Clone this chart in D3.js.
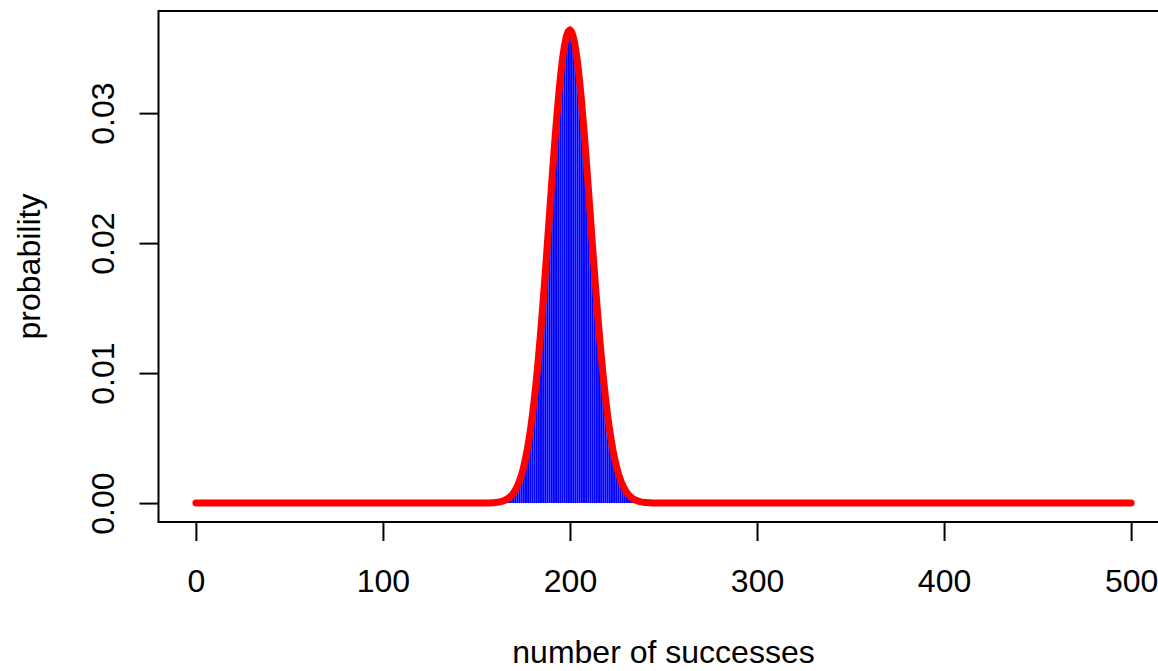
<!DOCTYPE html>
<html>
<head>
<meta charset="utf-8">
<script src="https://cdn.jsdelivr.net/npm/d3@7"></script>
<style>
  html, body { margin: 0; padding: 0; background: #fff; }
  svg { display: block; font-family: "Liberation Sans", Arial, Helvetica, sans-serif; }
</style>
</head>
<body>
<div id="chart"></div>
<script>
// Probability of each number of successes (the visible part of the curve, k = 156..245).
// Everything outside this window sits on zero.
const firstK = 156;
const probability = [
  0.0000096, 0.0000139, 0.0000200, 0.0000285, 0.0000404, 0.0000569, 0.0000793, 0.000110,
  0.000150, 0.000204, 0.000274, 0.000366, 0.000483, 0.000633, 0.000822, 0.001057,
  0.001348, 0.001704, 0.002135, 0.002652, 0.003265, 0.003984, 0.004820, 0.005780,
  0.006872, 0.008100, 0.009465, 0.010965, 0.012594, 0.014341, 0.016191, 0.018125,
  0.020118, 0.022140, 0.024160, 0.026142, 0.028048, 0.029840, 0.031481, 0.032934,
  0.034166, 0.035149, 0.035859, 0.036279, 0.036400, 0.036219, 0.035741, 0.034978,
  0.033949, 0.032680, 0.031199, 0.029541, 0.027742, 0.025840, 0.023871, 0.021872,
  0.019878, 0.017918, 0.016020, 0.014207, 0.012497, 0.010904, 0.009437, 0.008101,
  0.006898, 0.005826, 0.004881, 0.004057, 0.003345, 0.002735, 0.002219, 0.001786,
  0.001425, 0.001129, 0.000886, 0.000691, 0.000534, 0.000409, 0.000311, 0.000235,
  0.000176, 0.000131, 0.0000965, 0.0000705, 0.0000511, 0.0000368, 0.0000263, 0.0000187,
  0.0000132, 0.0000092
];
const nTrials = 500;
const xTicks = [0, 100, 200, 300, 400, 500];
const yTicks = [0, 0.01, 0.02, 0.03];

const W = 1158, H = 671;
const FONT = '32px';
const points = probability.map((p, i) => ({ k: firstK + i, p }));
const curve = [{ k: 0, p: 0 }, ...points, { k: nTrials, p: 0 }];

// R style: 4% padding on both ends of each axis
const xPad = nTrials * 0.04;
const yMax = d3.max(probability);
const yPad = yMax * 0.04;

const x = d3.scaleLinear().domain([-xPad, nTrials + xPad]).range([158.5, 1168.5]);
const y = d3.scaleLinear().domain([-yPad, yMax + yPad]).range([522, 11]);

const svg = d3.select('#chart').append('svg').attr('width', W).attr('height', H);

// bars (type = "h")
svg.append('g').selectAll('line').data(points).enter().append('line')
  .attr('x1', d => x(d.k)).attr('x2', d => x(d.k))
  .attr('y1', y(0)).attr('y2', d => y(d.p))
  .attr('stroke', '#0000ff').attr('stroke-width', 1.8);

// red curve
svg.append('path').datum(curve)
  .attr('d', d3.line().x(d => x(d.k)).y(d => y(d.p)))
  .attr('fill', 'none').attr('stroke', '#ff0000').attr('stroke-width', 7)
  .attr('stroke-linejoin', 'round').attr('stroke-linecap', 'round');

// box
svg.append('rect')
  .attr('x', x.range()[0]).attr('y', y.range()[1])
  .attr('width', x.range()[1] - x.range()[0]).attr('height', y.range()[0] - y.range()[1])
  .attr('fill', 'none').attr('stroke', '#000').attr('stroke-width', 2);

// x axis
const gx = svg.append('g').attr('transform', `translate(0,${y.range()[0]})`)
  .call(d3.axisBottom(x).tickValues(xTicks).tickSize(19).tickSizeOuter(0).tickPadding(0).tickFormat(d3.format('d')));
gx.select('.domain').remove();
gx.selectAll('.tick line').attr('stroke', '#000').attr('stroke-width', 2);
gx.selectAll('.tick text').attr('dy', null).attr('y', 70).attr('fill', '#000')
  .style('font-size', FONT);

// y axis
const gy = svg.append('g').attr('transform', `translate(${x.range()[0]},0)`)
  .call(d3.axisLeft(y).tickValues(yTicks).tickSize(19).tickSizeOuter(0).tickFormat(d3.format('.2f')));
gy.select('.domain').remove();
gy.selectAll('.tick line').attr('stroke', '#000').attr('stroke-width', 2);
gy.selectAll('.tick text')
  .attr('x', null).attr('dy', null)
  .attr('transform', 'translate(-45,0) rotate(-90)')
  .attr('text-anchor', 'middle').attr('fill', '#000')
  .style('font-size', FONT);

// axis titles
svg.append('text').attr('x', (x.range()[0] + x.range()[1]) / 2).attr('y', 663)
  .attr('text-anchor', 'middle').style('font-size', FONT).text('number of successes');
svg.append('text')
  .attr('transform', `translate(40,${(y.range()[0] + y.range()[1]) / 2}) rotate(-90)`)
  .attr('text-anchor', 'middle').style('font-size', FONT).text('probability');
</script>
</body>
</html>
